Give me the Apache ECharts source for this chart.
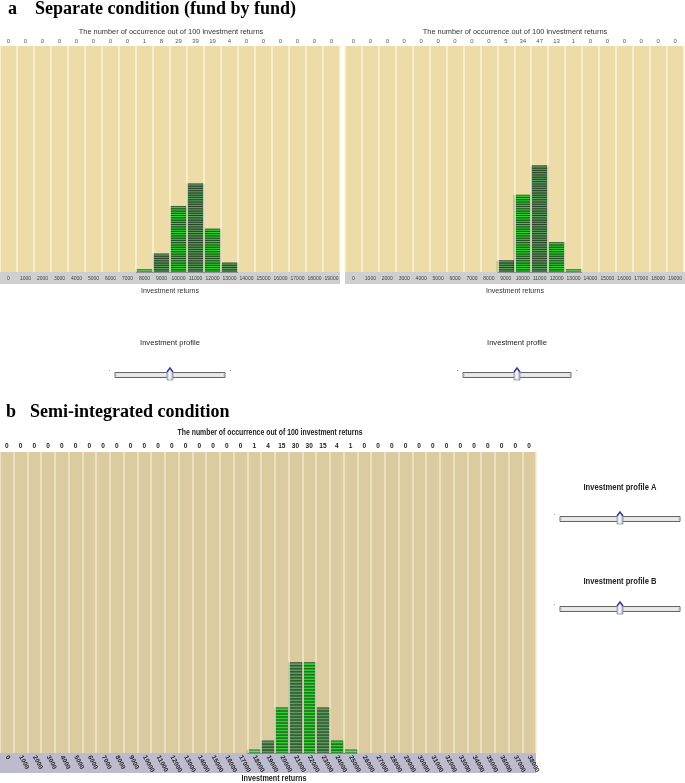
<!DOCTYPE html>
<html>
<head>
<meta charset="utf-8">
<script src="https://cdn.jsdelivr.net/npm/echarts@6/dist/echarts.min.js"></script>
<style>
  html, body { margin: 0; padding: 0; background: #fff; }
  #chart { width: 685px; height: 783px; }
</style>
</head>
<body>
<div id="chart"></div>
<script>
// investment return categories (x axis)
const returnsFund = ['0', '1000', '2000', '3000', '4000', '5000', '6000', '7000', '8000', '9000',
  '10000', '11000', '12000', '13000', '14000', '15000', '16000', '17000', '18000', '19000']
const returnsSemi = ['0', '1000', '2000', '3000', '4000', '5000', '6000', '7000', '8000', '9000',
  '10000', '11000', '12000', '13000', '14000', '15000', '16000', '17000', '18000', '19000',
  '20000', '21000', '22000', '23000', '24000', '25000', '26000', '27000', '28000', '29000',
  '30000', '31000', '32000', '33000', '34000', '35000', '36000', '37000', '38000']

// occurrences out of 100 returns
const countsFund1 = [0, 0, 0, 0, 0, 0, 0, 0, 1, 8, 29, 39, 19, 4, 0, 0, 0, 0, 0, 0]
const countsFund2 = [0, 0, 0, 0, 0, 0, 0, 0, 0, 5, 34, 47, 13, 1, 0, 0, 0, 0, 0, 0]
const countsSemi = [0, 0, 0, 0, 0, 0, 0, 0, 0, 0, 0, 0, 0, 0, 0, 0, 0, 0, 1, 4,
  15, 30, 30, 15, 4, 1, 0, 0, 0, 0, 0, 0, 0, 0, 0, 0, 0, 0, 0]

const SANS = "'Liberation Sans', Arial, sans-serif"
const SERIF = "'Liberation Serif', 'Times New Roman', serif"

const chart = echarts.init(document.getElementById('chart'))

// stacked unit blocks, one rect per occurrence
const renderUnits = (params, api) => {
  const idx = api.value(0)
  const n = api.value(1)
  const size = api.size([1, 1])
  const fill = idx % 2 === 0 ? '#2fd22f' : '#5c9c5c'
  const children = []
  for (let k = 0; k < n; k++) {
    const p = api.coord([idx, k + 1])
    children.push({
      type: 'rect',
      shape: { x: p[0] - size[0] / 2, y: p[1], width: size[0], height: size[1] },
      style: { fill: n === 1 ? '#62dc62' : fill, stroke: 'rgba(25,45,25,0.9)', lineWidth: 0.8 }
    })
  }
  return { type: 'group', children }
}

const bottomAxis = (gridIndex, data, sepColor, label) => ({
  type: 'category', gridIndex, data, position: 'bottom', z: 5,
  axisLine: { show: false }, axisTick: { show: false },
  splitLine: { show: true, lineStyle: { color: sepColor, width: 1.5 } },
  axisLabel: label
})
const topAxis = (gridIndex, counts, label) => ({
  type: 'category', gridIndex, data: counts.map(String), position: 'top', z: 5,
  axisLine: { show: false }, axisTick: { show: false }, splitLine: { show: false },
  axisLabel: label
})
const valueAxis = (gridIndex) => ({
  type: 'value', gridIndex, min: 0, max: 100, show: false
})

const labelA = { fontSize: 5, color: '#444', margin: 4, interval: 0, fontFamily: SANS }
const countA = { fontSize: 6, color: '#555', margin: 2, interval: 0, fontFamily: SANS }
const labelB = { fontSize: 6.5, color: '#222', margin: 3, interval: 0, rotate: -62, fontWeight: 'bold', fontFamily: SANS }
const countB = { fontSize: 6.5, color: '#222', margin: 2, interval: 0, fontWeight: 'bold', fontFamily: SANS }

// sx < 1 squeezes the text horizontally (narrow face of the original)
const text = (t, x, y, font, fill, align, sx) => ({
  type: 'text', z: 10, x, y, scaleX: sx || 1,
  style: { text: t, x: 0, y: 0, font, fill: fill || '#222', align: align || 'center', verticalAlign: 'middle',
    textAlign: align || 'center', textVerticalAlign: 'middle' }
})

const knobFill = new echarts.graphic.LinearGradient(0, 0, 1, 0, [
  { offset: 0, color: '#b9bccb' }, { offset: 0.5, color: '#ffffff' }, { offset: 1, color: '#9297ad' }
])
const slider = (x1, x2, y, kx) => [
  { type: 'rect', z: 10, shape: { x: x1, y: y - 2.5, width: x2 - x1, height: 5 },
    style: { fill: '#f6f6f6', stroke: '#666', lineWidth: 1 } },
  { type: 'rect', z: 10, shape: { x: x1 + 1.5, y: y - 1, width: x2 - x1 - 3, height: 2 },
    style: { fill: '#fff', stroke: '#bbb', lineWidth: 0.6 } },
  { type: 'polygon', z: 11, shape: { points: [[kx - 3, y + 5], [kx - 3, y - 3], [kx, y - 7], [kx + 3, y - 3], [kx + 3, y + 5]] },
    style: { fill: knobFill, stroke: '#8a8fa8', lineWidth: 0.8 } },
  { type: 'polyline', z: 12, shape: { points: [[kx - 3, y - 3], [kx, y - 7], [kx + 3, y - 3]] },
    style: { stroke: '#2a3c9c', lineWidth: 1.4, fill: null } },
  { type: 'rect', z: 10, shape: { x: x1 - 6, y: y - 5, width: 1, height: 1 }, style: { fill: '#999' } },
  { type: 'rect', z: 10, shape: { x: x2 + 5, y: y - 5, width: 1, height: 1 }, style: { fill: '#999' } }
]

const TITLE = 'The number of occurrence out of 100 investment returns'

const option = {
  animation: false,
  grid: [
    { left: 0, top: 46, width: 340, height: 226, show: true, backgroundColor: '#eedca8', borderWidth: 0 },
    { left: 345, top: 46, width: 340, height: 226, show: true, backgroundColor: '#eedca8', borderWidth: 0 },
    // the first column is partly cut off at the left edge in the original
    { left: -6, top: 452, width: 542, height: 301, show: true, backgroundColor: '#dbcb9f', borderWidth: 0 }
  ],
  xAxis: [
    bottomAxis(0, returnsFund, '#fbf3dc', labelA),
    bottomAxis(1, returnsFund, '#fbf3dc', labelA),
    bottomAxis(2, returnsSemi, '#f0e8cf', labelB),
    topAxis(0, countsFund1, countA),
    topAxis(1, countsFund2, countA),
    topAxis(2, countsSemi, countB)
  ],
  yAxis: [valueAxis(0), valueAxis(1), valueAxis(2)],
  series: [
    { type: 'custom', xAxisIndex: 0, yAxisIndex: 0, renderItem: renderUnits, data: countsFund1.map((v, i) => [i, v]) },
    { type: 'custom', xAxisIndex: 1, yAxisIndex: 1, renderItem: renderUnits, data: countsFund2.map((v, i) => [i, v]) },
    { type: 'custom', xAxisIndex: 2, yAxisIndex: 2, renderItem: renderUnits, data: countsSemi.map((v, i) => [i, v]) }
  ],
  graphic: [
    // axis bands
    { type: 'rect', z: 1, shape: { x: 0, y: 272, width: 340, height: 12 }, style: { fill: '#cfcfcf' } },
    { type: 'rect', z: 1, shape: { x: 345, y: 272, width: 340, height: 12 }, style: { fill: '#cfcfcf' } },
    { type: 'rect', z: 1, shape: { x: 0, y: 753, width: 536, height: 20 }, style: { fill: '#bdbccf' } },
    // headings
    text('a', 8, 9, 'bold 18px ' + SERIF, '#000', 'left'),
    text('Separate condition (fund by fund)', 35, 9, 'bold 18px ' + SERIF, '#000', 'left'),
    text('b', 6, 412, 'bold 18px ' + SERIF, '#000', 'left'),
    text('Semi-integrated condition', 30, 412, 'bold 18px ' + SERIF, '#000', 'left'),
    // chart titles
    text(TITLE, 171, 32, '7.4px ' + SANS, '#333'),
    text(TITLE, 515, 32, '7.4px ' + SANS, '#333'),
    text(TITLE, 270, 433, 'bold 8.6px ' + SANS, '#222', 'center', 0.8),
    // axis names
    text('Investment returns', 170, 291, '7px ' + SANS, '#333'),
    text('Investment returns', 515, 291, '7px ' + SANS, '#333'),
    text('Investment returns', 274, 779, 'bold 9px ' + SANS, '#222', 'center', 0.8),
    // sliders
    text('Investment profile', 170, 343, '7.6px ' + SANS, '#222'),
    text('Investment profile', 517, 343, '7.6px ' + SANS, '#222'),
    ...slider(115, 225, 375, 170),
    ...slider(463, 571, 375, 517),
    text('Investment profile A', 620, 487, 'bold 9.5px ' + SANS, '#222', 'center', 0.8),
    ...slider(560, 680, 519, 620),
    text('Investment profile B', 620, 581, 'bold 9.5px ' + SANS, '#222', 'center', 0.8),
    ...slider(560, 680, 609, 620)
  ]
}

chart.setOption(option)

window.addEventListener('resize', () => {
  chart.resize()
})
</script>
</body>
</html>
